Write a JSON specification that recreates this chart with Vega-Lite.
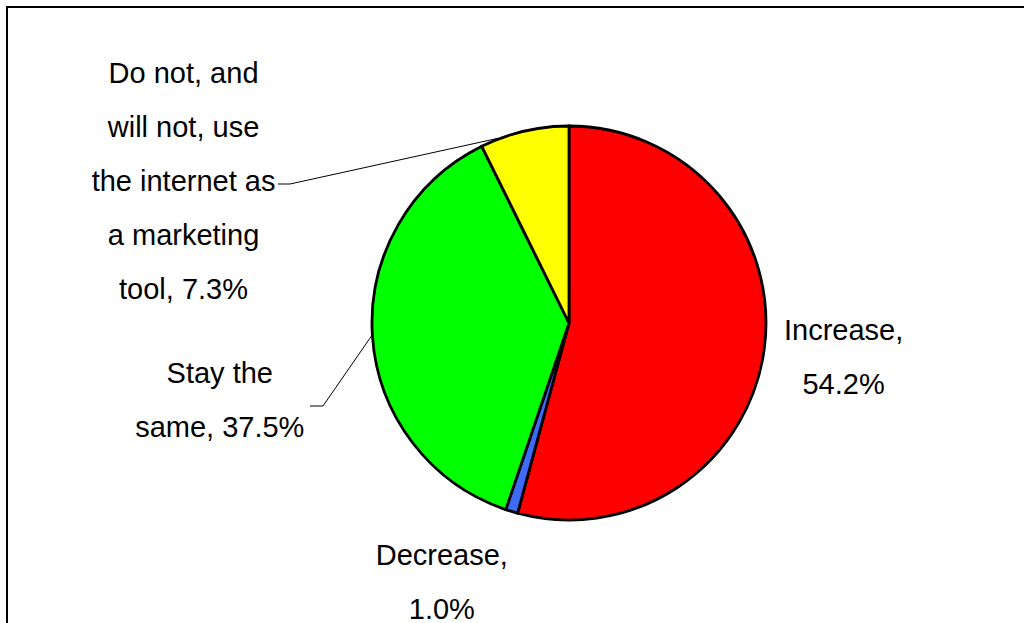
{
  "$schema": "https://vega.github.io/schema/vega-lite/v6.json",
  "width": 1124,
  "height": 632,
  "autosize": {"type": "none"},
  "padding": {"left": 7, "top": 7, "right": 0, "bottom": 0},
  "background": "white",
  "view": {"stroke": "black", "strokeWidth": 2},
  "config": {
    "view": {"stroke": "black", "strokeWidth": 2},
    "text": {"font": "Liberation Sans", "fontSize": 29, "lineHeight": 54, "color": "black"}
  },
  "data": {
    "values": [
      {"category": "Increase", "value": 54.2, "order": 1, "label": ["Increase,", "54.2%"]},
      {"category": "Decrease", "value": 1.0, "order": 2, "label": ["Decrease,", "1.0%"]},
      {"category": "Stay the same", "value": 37.5, "order": 3, "label": ["Stay the", "same, 37.5%"]},
      {"category": "Do not, and will not, use the internet as a marketing tool", "value": 7.3, "order": 4, "label": ["Do not, and", "will not, use", "the internet as", "a marketing", "tool, 7.3%"]}
    ]
  },
  "transform": [
    {"stack": "value", "groupby": [], "sort": [{"field": "order", "order": "ascending"}], "as": ["v0", "v1"]},
    {"calculate": "(datum.v0 + datum.v1) / 2", "as": "mid"}
  ],
  "layer": [
    {
      "mark": {"type": "arc", "outerRadius": 197, "stroke": "black", "strokeWidth": 2.8},
      "encoding": {
        "theta": {"field": "v0", "type": "quantitative", "scale": {"domain": [0, 100]}},
        "theta2": {"field": "v1"},
        "color": {
          "field": "category",
          "type": "nominal",
          "scale": {
            "domain": ["Increase", "Decrease", "Stay the same", "Do not, and will not, use the internet as a marketing tool"],
            "range": ["#ff0000", "#3d6bf5", "#00ff00", "#ffff00"]
          },
          "legend": null
        }
      }
    },
    {
      "transform": [
        {"filter": "datum.order >= 3"},
        {"calculate": "2 * PI * (datum.order == 4 ? datum.v0 + 0.19 * (datum.v1 - datum.v0) : datum.mid) / 100", "as": "a"},
        {"calculate": "width / 2 + 198 * sin(datum.a)", "as": "px"},
        {"calculate": "height / 2 - 198 * cos(datum.a)", "as": "py"},
        {"calculate": "width / 2 + (datum.order == 4 ? -279 : -246)", "as": "ex"},
        {"calculate": "height / 2 + (datum.order == 4 ? -139 : 83)", "as": "ey"},
        {"calculate": "width / 2 + (datum.order == 4 ? -291 : -259)", "as": "tx"}
      ],
      "layer": [
        {
          "mark": {"type": "rule", "color": "black", "strokeWidth": 1},
          "encoding": {
            "x": {"field": "tx", "type": "quantitative", "scale": {"domain": [0, 1124], "nice": false, "zero": false}, "axis": null},
            "y": {"field": "ey", "type": "quantitative", "scale": {"domain": [0, 632], "nice": false, "zero": false, "reverse": true}, "axis": null},
            "x2": {"field": "ex"},
            "y2": {"field": "ey"}
          }
        },
        {
          "mark": {"type": "rule", "color": "black", "strokeWidth": 1},
          "encoding": {
            "x": {"field": "ex", "type": "quantitative", "axis": null},
            "y": {"field": "ey", "type": "quantitative", "axis": null},
            "x2": {"field": "px"},
            "y2": {"field": "py"}
          }
        }
      ]
    },
    {
      "transform": [{"filter": "datum.order == 1"}],
      "mark": {"type": "text", "radius": 277, "dy": -19, "align": "center", "baseline": "alphabetic"},
      "encoding": {"theta": {"field": "mid", "type": "quantitative"}, "text": {"field": "label"}}
    },
    {
      "transform": [{"filter": "datum.order == 2"}],
      "mark": {"type": "text", "radius": 272, "dx": -48, "dy": -18, "align": "center", "baseline": "alphabetic"},
      "encoding": {"theta": {"field": "mid", "type": "quantitative"}, "text": {"field": "label"}}
    },
    {
      "transform": [{"filter": "datum.order == 3"}],
      "mark": {"type": "text", "radius": 350, "dy": 37, "align": "center", "baseline": "alphabetic"},
      "encoding": {"theta": {"field": "mid", "type": "quantitative"}, "text": {"field": "label"}}
    },
    {
      "transform": [{"filter": "datum.order == 4"}],
      "mark": {"type": "text", "radius": 200, "dx": -340, "dy": -45, "align": "center", "baseline": "alphabetic"},
      "encoding": {"theta": {"field": "mid", "type": "quantitative"}, "text": {"field": "label"}}
    }
  ]
}
